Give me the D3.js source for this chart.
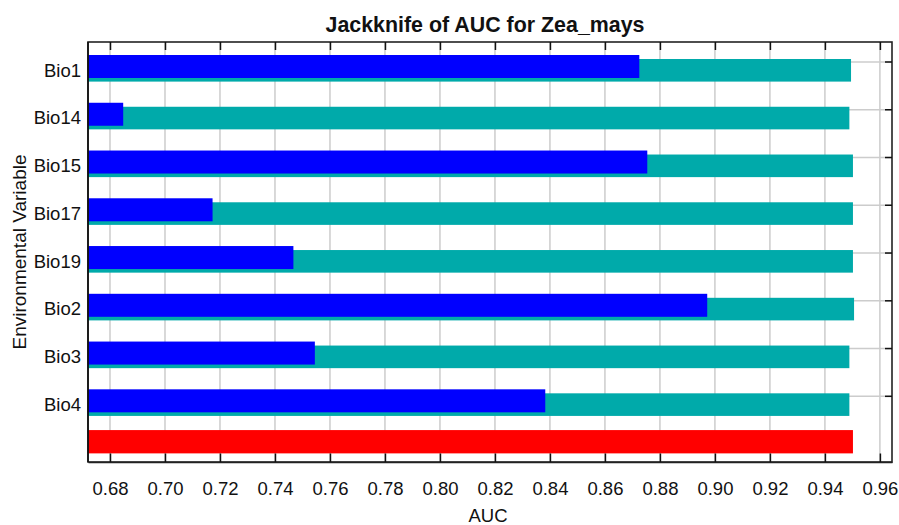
<!DOCTYPE html>
<html>
<head>
<meta charset="utf-8">
<script src="https://cdn.jsdelivr.net/npm/d3@7"></script>
<style>
  html, body { margin: 0; padding: 0; background: #fff; }
  svg { display: block; }
  text { font-family: "Liberation Sans", Arial, sans-serif; fill: #111; }
</style>
</head>
<body>
<svg id="chart" width="899" height="525"></svg>
<script>
// Jackknife of AUC: model without each variable, with only that variable, and with all.
const variables = ["Bio1", "Bio14", "Bio15", "Bio17", "Bio19", "Bio2", "Bio3", "Bio4"];
const withoutVariable = [0.9495, 0.9489, 0.9502, 0.9502, 0.9502, 0.9506, 0.9489, 0.9489];
const withOnlyVariable = [0.8725, 0.6848, 0.8754, 0.7173, 0.7467, 0.8972, 0.7545, 0.8383];
const withAllVariables = [0.9502];
const xTicks = [0.68, 0.70, 0.72, 0.74, 0.76, 0.78, 0.80, 0.82, 0.84, 0.86, 0.88, 0.90, 0.92, 0.94, 0.96];
const xDomain = [0.672, 0.9644];
const ALL = "__all__";

const svg = d3.select("#chart");
const plot = { left: 88, right: 892, top: 42, bottom: 462 };
const rowStep = 47.76;
const rowStart = plot.top + 13;

const x = d3.scaleLinear().domain(xDomain).range([plot.left, plot.right]);
const rows = variables.concat([ALL]);
const y = d3.scaleBand()
  .domain(rows)
  .range([rowStart, rowStart + rows.length * rowStep])
  .padding(0);

const TEAL = "#00aaaa", BLUE = "#0000ff", RED = "#ff0000";

// plot background
svg.append("rect")
  .attr("x", plot.left).attr("y", plot.top)
  .attr("width", plot.right - plot.left).attr("height", plot.bottom - plot.top)
  .attr("fill", "#fff");

// vertical gridlines
svg.append("g").selectAll("line").data(xTicks).join("line")
  .attr("x1", d => x(d)).attr("x2", d => x(d))
  .attr("y1", plot.top).attr("y2", plot.bottom)
  .attr("stroke", "#cccccc").attr("stroke-width", 1.5);

// horizontal gridlines at each variable
svg.append("g").selectAll("line").data(variables).join("line")
  .attr("x1", plot.left).attr("x2", plot.right)
  .attr("y1", d => y(d) + 7).attr("y2", d => y(d) + 7)
  .attr("stroke", "#cccccc").attr("stroke-width", 1.5);

const data = variables.map((v, i) => ({ name: v, without: withoutVariable[i], only: withOnlyVariable[i] }));

// without variable (teal)
svg.append("g").selectAll("rect").data(data).join("rect")
  .attr("x", x(xDomain[0]))
  .attr("y", d => y(d.name) + 4)
  .attr("width", d => x(d.without) - x(xDomain[0]))
  .attr("height", 22.6)
  .attr("fill", TEAL);

// with only variable (blue)
svg.append("g").selectAll("rect").data(data).join("rect")
  .attr("x", x(xDomain[0]))
  .attr("y", d => y(d.name))
  .attr("width", d => x(d.only) - x(xDomain[0]))
  .attr("height", 23)
  .attr("fill", BLUE);

// with all variables (red)
svg.append("g").selectAll("rect").data(withAllVariables).join("rect")
  .attr("x", x(xDomain[0]))
  .attr("y", y(ALL) - 7)
  .attr("width", d => x(d) - x(xDomain[0]))
  .attr("height", 23.3)
  .attr("fill", RED);

// plot border
svg.append("rect")
  .attr("x", plot.left).attr("y", plot.top)
  .attr("width", plot.right - plot.left).attr("height", plot.bottom - plot.top)
  .attr("fill", "none").attr("stroke", "#222").attr("stroke-width", 1.6);

// bottom axis (ticks point inward)
const bottomAxis = d3.axisBottom(x).tickValues(xTicks).tickFormat(d3.format(".2f"))
  .tickSizeInner(-8.5).tickSizeOuter(0).tickPadding(0);
const gb = svg.append("g").attr("transform", `translate(0,${plot.bottom})`).call(bottomAxis);
gb.select(".domain").attr("stroke", "#222").attr("stroke-width", 1.6);
gb.selectAll(".tick line").attr("stroke", "#111").attr("stroke-width", 1.5);
gb.selectAll(".tick text")
  .attr("y", 33).attr("dy", null)
  .style("font-family", '"Liberation Sans", Arial, sans-serif')
  .style("font-size", "18.5px").attr("fill", "#222");

// top axis ticks
const topAxis = d3.axisTop(x).tickValues(xTicks).tickFormat("")
  .tickSizeInner(-8).tickSizeOuter(0);
const gt = svg.append("g").attr("transform", `translate(0,${plot.top})`).call(topAxis);
gt.select(".domain").remove();
gt.selectAll(".tick line").attr("stroke", "#111").attr("stroke-width", 1.5);

// left axis: category labels
const leftAxis = d3.axisLeft(y).tickValues(variables).tickSize(0).tickPadding(7);
const gl = svg.append("g").attr("transform", `translate(${plot.left},0)`).call(leftAxis);
gl.select(".domain").attr("stroke", "#111").attr("stroke-width", 1.6)
  .attr("d", `M0,${plot.top}V${plot.bottom}`);
gl.selectAll(".tick").attr("transform", d => `translate(0,${y(d) + 21.5})`);
gl.selectAll(".tick text")
  .attr("dy", null).attr("y", 0)
  .style("font-family", '"Liberation Sans", Arial, sans-serif')
  .style("font-size", "18.5px").attr("fill", "#222");

// right axis ticks at each variable
const gr = svg.append("g");
gr.selectAll("line").data(variables).join("line")
  .attr("x1", plot.right - 7).attr("x2", plot.right)
  .attr("y1", d => y(d) + 7).attr("y2", d => y(d) + 7)
  .attr("stroke", "#111").attr("stroke-width", 1.5);

// title
svg.append("text")
  .attr("x", 485).attr("y", 32)
  .attr("text-anchor", "middle")
  .style("font-size", "21.4px").style("font-weight", "bold")
  .text("Jackknife of AUC for Zea_mays");

// axis titles
svg.append("text")
  .attr("x", (plot.left + plot.right) / 2 - 2).attr("y", 522)
  .attr("text-anchor", "middle")
  .style("font-size", "18.5px").attr("fill", "#222")
  .text("AUC");

svg.append("text")
  .attr("transform", `translate(26,${(plot.top + plot.bottom) / 2}) rotate(-90)`)
  .attr("text-anchor", "middle")
  .style("font-size", "19px").attr("fill", "#222")
  .text("Environmental Variable");
</script>
</body>
</html>
